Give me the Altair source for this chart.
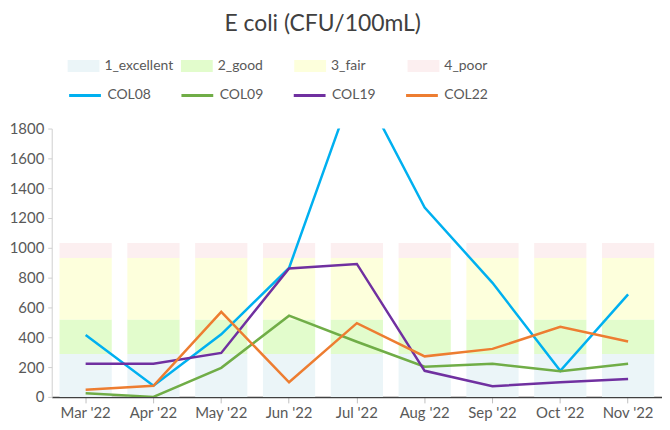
import altair as alt
import pandas as pd

months = ["Mar '22", "Apr '22", "May '22", "Jun '22", "Jul '22", "Aug '22", "Sep '22", "Oct '22", "Nov '22"]

# band thresholds (stacked heights)
band_names = ["1_excellent", "2_good", "3_fair", "4_poor"]
band_heights = [288, 232, 412, 100]
band_colors = ["#EBF5F8", "#E2FCCC", "#FDFFDC", "#FCEFF0"]

sites = ["COL08", "COL09", "COL19", "COL22"]
site_colors = ["#00B0F0", "#70AD47", "#7030A0", "#ED7D31"]
col08 = [415, 75, 420, 865, 2140, 1270, 765, 175, 688]
col09 = [25, 0, 195, 545, 370, 202, 222, 172, 222]
col19 = [222, 222, 295, 862, 892, 175, 72, 98, 120]
col22 = [48, 75, 570, 98, 495, 272, 322, 470, 372]
y_ticks = [0, 200, 400, 600, 800, 1000, 1200, 1400, 1600, 1800]

bands = pd.DataFrame(
    [{"month": m, "band": b, "h": h} for m in months for b, h in zip(band_names, band_heights)]
)
lines = pd.DataFrame(
    [{"month": m, "site": s, "v": v}
     for s, vals in zip(sites, [col08, col09, col19, col22])
     for m, v in zip(months, vals)]
)

FONT = "Lato"
GRAY = "#595959"

x_axis = alt.Axis(labelAngle=0, labelColor=GRAY, labelFontSize=15, labelFont=FONT,
                  domainColor="#404040", domainWidth=1.5, tickColor="#BFBFBF",
                  tickSize=6, labelPadding=3)
x_scale = alt.Scale(paddingInner=0.23, paddingOuter=0.115)
y_scale = alt.Scale(domain=[0, 1800], nice=False)
y_axis = alt.Axis(values=y_ticks, format="d", labelOverlap=False,
                  labelColor=GRAY, labelFontSize=15,
                  labelFont=FONT, domainColor="#D0D0D0", tickColor="#D0D0D0", tickSize=4,
                  grid=False, labelPadding=4)

bars = alt.Chart(bands).mark_bar().encode(
    x=alt.X("month:N", sort=months, title=None, scale=x_scale, axis=x_axis),
    y=alt.Y("h:Q", stack="zero", scale=y_scale, axis=y_axis, title=None),
    fill=alt.Fill("band:N", scale=alt.Scale(domain=band_names, range=band_colors),
                  legend=alt.Legend(title=None, orient="none", legendX=16, legendY=-79,
                                    direction="horizontal", columns=4, gridAlign="all",
                                    symbolType="M-1,-0.375H1V0.375H-1Z", symbolSize=1024,
                                    symbolStrokeWidth=0, symbolOpacity=1,
                                    labelFont=FONT, labelFontSize=14, labelColor=GRAY,
                                    labelOffset=5, columnPadding=7, padding=0)),
    order=alt.Order("band:N", sort="ascending"),
)

lns = alt.Chart(lines).mark_line(strokeWidth=2.5, clip=True).encode(
    x=alt.X("month:N", sort=months, title=None, scale=x_scale, axis=x_axis),
    y=alt.Y("v:Q", scale=y_scale, axis=y_axis, title=None),
    stroke=alt.Stroke("site:N", scale=alt.Scale(domain=sites, range=site_colors),
                      legend=alt.Legend(title=None, orient="none", legendX=16, legendY=-51,
                                        direction="horizontal", columns=4, gridAlign="all",
                                        symbolType="stroke", symbolSize=1024,
                                        symbolStrokeWidth=3,
                                        labelFont=FONT, labelFontSize=14, labelColor=GRAY,
                                        labelOffset=5, columnPadding=24, padding=0)),
)

chart = alt.layer(bars, lns).properties(
    width=614, height=270,
    title=alt.TitleParams("E coli (CFU/100mL)", font=FONT, fontSize=23, fontWeight="normal",
                          color="#404040", anchor="middle", frame="bounds", offset=14, dx=-13),
    autosize=alt.AutoSizeParams(type="none"),
    padding={"left": 44, "top": 120, "right": 0, "bottom": 30},
).configure_view(stroke=None)

chart.save("out.html", embed_options={"renderer": "svg", "actions": False})
